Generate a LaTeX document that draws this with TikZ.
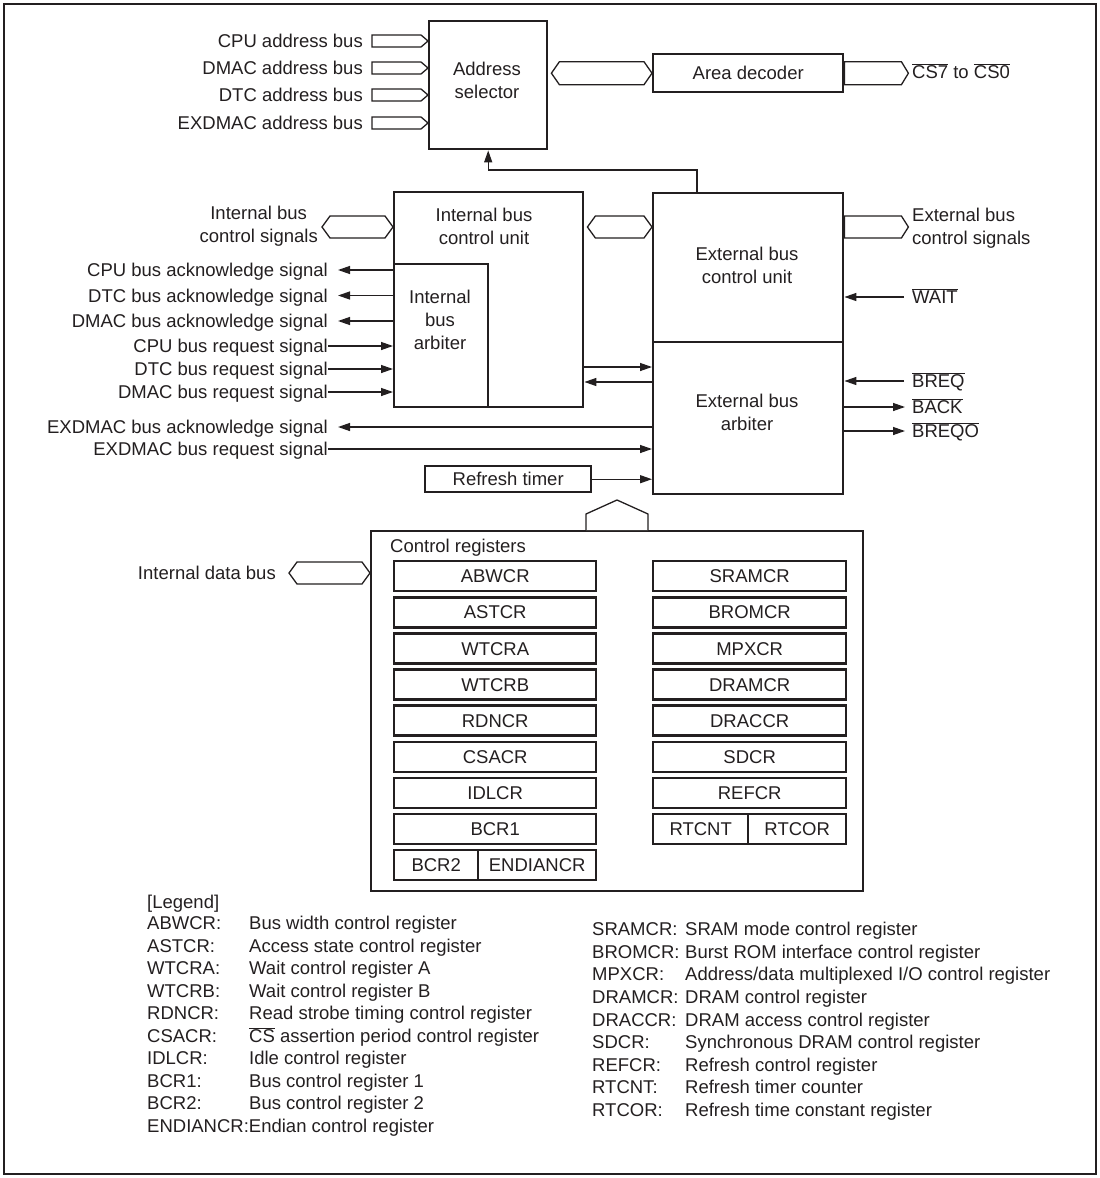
\documentclass[tikz,border=0pt]{standalone}
\usepackage{fontspec}
\setmainfont{Liberation Sans}
\usetikzlibrary{arrows.meta,calc}
\definecolor{ink}{HTML}{231F20}
\newcommand\ovl[1]{$\overline{\hbox{#1}}$}
% double-headed hollow bus: #1 left tip, #2 right tip, #3 half height, #4 head length
\newcommand\dbus[4]{\draw[bus] (#1) -- ($(#1)+(#4,-#3)$) -- ($(#2)+(-#4,-#3)$) -- (#2) -- ($(#2)+(-#4,#3)$) -- ($(#1)+(#4,#3)$) -- cycle;}
% right-pointing hollow bus: #1 flat left end, #2 right tip
\newcommand\rbus[4]{\draw[bus] ($(#1)+(0,#3)$) -- ($(#1)+(0,-#3)$) -- ($(#2)+(-#4,-#3)$) -- (#2) -- ($(#2)+(-#4,#3)$) -- cycle;}
\begin{document}
\begin{tikzpicture}[x=1pt,y=-1pt,
  font=\fontsize{18.5}{23}\selectfont,
  blk/.style={draw=ink, line width=2.4pt, inner sep=0, anchor=north west},
  txt/.style={inner sep=0, text=ink, text height=13.3pt, text depth=0pt},
  mtxt/.style={inner sep=0, text=ink, align=center},
  conn/.style={draw=ink, line width=1.3pt},
  arr/.style={conn, -{Triangle[length=12pt,width=8pt]}},
  bus/.style={draw=ink, line width=1.3pt, fill=white},
  reg/.style={blk, minimum height=30pt, text=ink, text height=13.3pt, text depth=0pt}]
\useasboundingbox (0,0) rectangle (1100,1178);
\draw[ink, line width=2.5pt] (4,4) rectangle (1096,1174);

% ---------- main blocks ----------
\node[blk, minimum width=118pt, minimum height=128pt] (asel) at (428,20) {};
\node[mtxt] (aselt) at (487,80) {Address\\selector};
\node[blk, minimum width=190pt, minimum height=38pt, text=ink, text height=13.3pt, text depth=0pt] (adec) at (652,53) {Area decoder};

\node[blk, minimum width=189pt, minimum height=215pt] (ibcu) at (393,191) {};
\node[mtxt] (ibcut) at (484,226) {Internal bus\\control unit};
\node[blk, minimum width=94pt, minimum height=143pt] (iarb) at (393,263) {};
\node[mtxt] (iarbt) at (440,320) {Internal\\bus\\arbiter};

\node[blk, minimum width=190pt, minimum height=149pt] (ebcu) at (652,192) {};
\node[mtxt] (ebcut) at (747,265) {External bus\\control unit};
\node[blk, minimum width=190pt, minimum height=152pt] (earb) at (652,341) {};
\node[mtxt] (earbt) at (747,412) {External bus\\arbiter};

\node[blk, minimum width=166pt, minimum height=26pt, text=ink, text height=13.3pt, text depth=0pt] (rtim) at (424,465) {Refresh timer};

\node[blk, minimum width=492pt, minimum height=360pt] (creg) at (370,530) {};
\node[txt, anchor=west] (cregt) at (390,546) {Control registers};

% ---------- registers ----------
\foreach \n/\t [count=\i from 0] in {abwcr/ABWCR, astcr/ASTCR, wtcra/WTCRA, wtcrb/WTCRB, rdncr/RDNCR, csacr/CSACR, idlcr/IDLCR, bcr1/BCR1}
  \node[reg, minimum width=202pt] (\n) at (393,560+36.1*\i) {\t};
\node[reg, minimum width=84pt] (bcr2) at (393,848.7) {BCR2};
\node[reg, minimum width=118pt] (endiancr) at (477,848.7) {ENDIANCR};
\foreach \n/\t [count=\i from 0] in {sramcr/SRAMCR, bromcr/BROMCR, mpxcr/MPXCR, dramcr/DRAMCR, draccr/DRACCR, sdcr/SDCR, refcr/REFCR}
  \node[reg, minimum width=193pt] (\n) at (652,560+36.1*\i) {\t};
\node[reg, minimum width=95pt] (rtcnt) at (652,812.7) {RTCNT};
\node[reg, minimum width=98pt] (rtcor) at (747,812.7) {RTCOR};

% ---------- address buses ----------
\foreach \n/\t/\y in {cpua/CPU address bus/41, dmaca/DMAC address bus/68, dtca/DTC address bus/95, exa/EXDMAC address bus/123}{
  \node[txt, anchor=east] (\n) at (363,\y) {\t};
  \coordinate (\n s) at ($(\n.east)+(9,0)$);
  \coordinate (\n t) at (asel.west |- \n.east);
  \rbus{\n s}{\n t}{6}{7}
}
\coordinate (ab1) at ($(asel.east |- adec.west)+(3,0)$);
\coordinate (ab2) at (adec.west);
\dbus{ab1}{ab2}{11.5}{8}
\coordinate (cs1) at (adec.east);
\coordinate (cs2) at ($(adec.east)+(64,0)$);
\rbus{cs1}{cs2}{11.5}{7}
\node[txt, anchor=west] (cs) at (912,72) {\ovl{CS7} to \ovl{CS0}};

% feedback to address selector
\draw[arr] ($(ebcu.north west)+(45,0)$) -- ++(0,-22) -| (asel.south);

% ---------- internal bus control signals ----------
\node[mtxt, anchor=east] (ibsig) at (318,226) {Internal bus\\control signals};
\coordinate (ibs1) at (322,227);
\coordinate (ibs2) at (ibcu.west |- ibs1);
\dbus{ibs1}{ibs2}{11}{8}
\coordinate (ie1) at ($(ibcu.east |- ibs1)+(3,0)$);
\coordinate (ie2) at (ebcu.west |- ibs1);
\dbus{ie1}{ie2}{11}{8}
\coordinate (es1) at (ebcu.east |- ibs1);
\coordinate (es2) at ($(es1)+(64,0)$);
\rbus{es1}{es2}{11}{7}
\node[mtxt, align=left, anchor=west] (esig) at (912,228.5) {External bus\\control signals};

% ---------- left signals ----------
\foreach \n/\t/\y in {ack1/CPU bus acknowledge signal/270, ack2/DTC bus acknowledge signal/295.5, ack3/DMAC bus acknowledge signal/321}{
  \node[txt, anchor=east] (\n) at (328,\y) {\t};
  \draw[arr] (ibcu.west |- \n.east) -- ($(\n.east)+(10,0)$);
}
\foreach \n/\t/\y in {req1/CPU bus request signal/346, req2/DTC bus request signal/369, req3/DMAC bus request signal/392}{
  \node[txt, anchor=east] (\n) at (328,\y) {\t};
  \draw[arr] (\n.east) -- (ibcu.west |- \n.east);
}
\coordinate (ia1) at (ibcu.east |- 0,367);
\coordinate (ia2) at (ibcu.east |- 0,382);
\draw[arr] (ia1) -- (earb.west |- ia1);
\draw[arr] (earb.west |- ia2) -- (ia2);

\node[txt, anchor=east] (xack) at (328,427) {EXDMAC bus acknowledge signal};
\draw[arr] (earb.west |- xack.east) -- ($(xack.east)+(10,0)$);
\node[txt, anchor=east] (xreq) at (328,449) {EXDMAC bus request signal};
\draw[arr] (xreq.east) -- (earb.west |- xreq.east);
\draw[arr] (rtim.east) -- (earb.west |- rtim.east);

% ---------- right signals ----------
\node[txt, anchor=west] (wait) at (912,297) {\ovl{WAIT}};
\draw[arr] ($(wait.west)+(-8,0)$) -- (ebcu.east |- wait.west);
\node[txt, anchor=west] (breq) at (912,381) {\ovl{BREQ}};
\draw[arr] ($(breq.west)+(-8,0)$) -- (earb.east |- breq.west);
\node[txt, anchor=west] (back) at (912,407) {\ovl{BACK}};
\draw[arr] (earb.east |- back.west) -- ($(back.west)+(-7,0)$);
\node[txt, anchor=west] (breqo) at (912,431) {\ovl{BREQO}};
\draw[arr] (earb.east |- breqo.west) -- ($(breqo.west)+(-7,0)$);

% ---------- control register bus ----------
\coordinate (pb) at ($(creg.north west)+(247,0)$);
\draw[bus] ($(pb)+(-31,0)$) -- ($(pb)+(-31,-16)$) -- ($(pb)+(0,-30)$) -- ($(pb)+(31,-16)$) -- ($(pb)+(31,0)$);
\coordinate (idb2) at (creg.west |- 0,573);
\coordinate (idb1) at ($(idb2)+(-81,0)$);
\dbus{idb1}{idb2}{11}{8}
\node[txt, anchor=east] (idb) at (276,573) {Internal data bus};

% ---------- legend ----------
\node[txt, anchor=west] (leg) at (147,902) {[Legend]};
\foreach \a/\d [count=\i from 0] in {ABWCR:/Bus width control register, ASTCR:/Access state control register, WTCRA:/Wait control register A, WTCRB:/Wait control register B, RDNCR:/Read strobe timing control register, CSACR:/\ovl{CS} assertion period control register, IDLCR:/Idle control register, BCR1:/Bus control register 1, BCR2:/Bus control register 2}{
  \node[txt, anchor=west] (la\i) at (147,923+22.5*\i) {\a};
  \node[txt, anchor=west] (ld\i) at (249,923+22.5*\i) {\d};
}
\node[txt, anchor=west] (la9) at (147,1125.5) {ENDIANCR:Endian control register};
\foreach \a/\d [count=\i from 0] in {SRAMCR:/SRAM mode control register, BROMCR:/Burst ROM interface control register, MPXCR:/Address\slash data multiplexed I\slash O control register, DRAMCR:/DRAM control register, DRACCR:/DRAM access control register, SDCR:/Synchronous DRAM control register, REFCR:/Refresh control register, RTCNT:/Refresh timer counter, RTCOR:/Refresh time constant register}{
  \node[txt, anchor=west] (ra\i) at (592,929+22.6*\i) {\a};
  \node[txt, anchor=west] (rd\i) at (685,929+22.6*\i) {\d};
}
\end{tikzpicture}
\end{document}
